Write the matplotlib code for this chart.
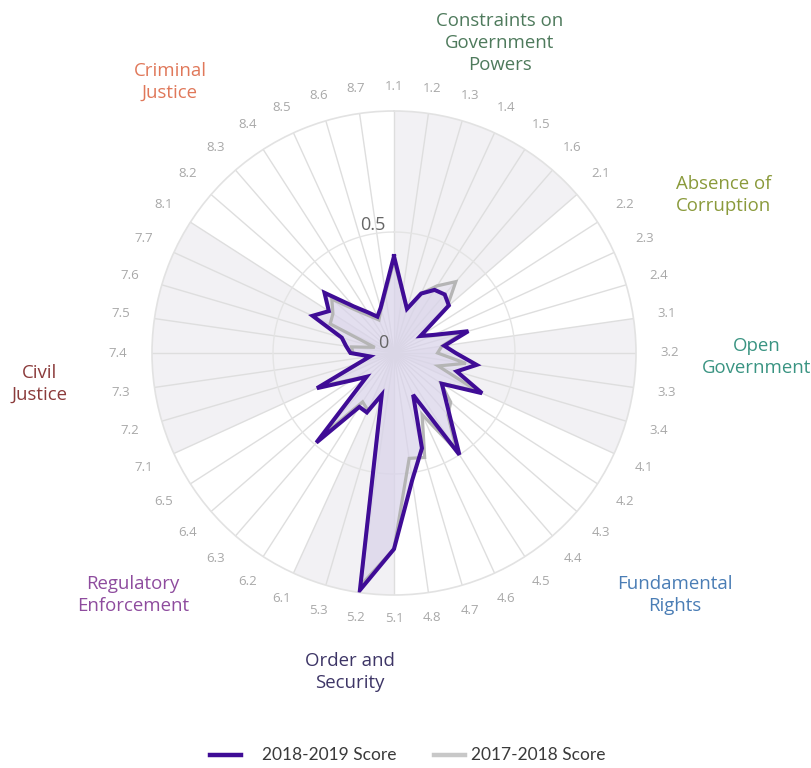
import numpy as np
import matplotlib
matplotlib.use("Agg")
import matplotlib.pyplot as plt
from matplotlib.lines import Line2D

# ---------------- data ----------------
subfactors = ['1.1', '1.2', '1.3', '1.4', '1.5', '1.6',
              '2.1', '2.2', '2.3', '2.4',
              '3.1', '3.2', '3.3', '3.4',
              '4.1', '4.2', '4.3', '4.4', '4.5', '4.6', '4.7', '4.8',
              '5.1', '5.2', '5.3',
              '6.1', '6.2', '6.3', '6.4', '6.5',
              '7.1', '7.2', '7.3', '7.4', '7.5', '7.6', '7.7',
              '8.1', '8.2', '8.3', '8.4', '8.5', '8.6', '8.7']

score_2019 = [0.40, 0.255, 0.19, 0.27, 0.31, 0.32,
              0.30, 0.13, 0.18, 0.32,
              0.21, 0.255, 0.345, 0.27,
              0.40, 0.235, 0.28, 0.355, 0.50, 0.19, 0.41, 0.53,
              0.81, 0.99, 0.18,
              0.27, 0.265, 0.49, 0.15, 0.21,
              0.35, 0.155, 0.10, 0.18, 0.20, 0.225, 0.37,
              0.32, 0.38, 0.255, 0.20, 0.165, 0.195, 0.26]

score_2018 = [0.38, 0.25, 0.19, 0.27, 0.33, 0.39,
              0.29, 0.13, 0.17, 0.30,
              0.20, 0.18, 0.30, 0.19,
              0.38, 0.23, 0.31, 0.34, 0.48, 0.28, 0.45, 0.44,
              0.81, 0.97, 0.18,
              0.26, 0.24, 0.45, 0.15, 0.20,
              0.33, 0.15, 0.10, 0.17, 0.177, 0.083, 0.29,
              0.30, 0.34, 0.23, 0.18, 0.15, 0.19, 0.25]

factor_names = ['Constraints on\nGovernment\nPowers', 'Absence of\nCorruption',
                'Open\nGovernment', 'Fundamental\nRights', 'Order and\nSecurity',
                'Regulatory\nEnforcement', 'Civil\nJustice', 'Criminal\nJustice']
factor_colors = ['#4e7a5c', '#8a9a3b', '#3a9482', '#4a7db5',
                 '#3d3566', '#8e4c9e', '#8b3b3b', '#e0785a']
# shaded bands for factors 1,3,5,7
band_factors = ['1', '3', '5', '7']

series_names = ['2018-2019 Score', '2017-2018 Score']
radial_ticks = [0, 0.5]

# ---------------- layout ----------------
W, H = 812, 768
DPI = 100
fig = plt.figure(figsize=(W / DPI, H / DPI), dpi=DPI)
fig.patch.set_facecolor('white')

cx, cy, R = 394, 353, 242
ax = fig.add_axes([(cx - R) / W, (H - cy - R) / H, 2 * R / W, 2 * R / H],
                  projection='polar')
ax.set_theta_zero_location('N')
ax.set_theta_direction(-1)
ax.set_ylim(0, 1)
ax.set_facecolor('white')
ax.grid(False)
ax.set_xticks([])
ax.set_yticks([])
ax.spines['polar'].set_color('#e2e2e2')
ax.spines['polar'].set_linewidth(1.2)

n = len(subfactors)
step = 2 * np.pi / n
theta = np.arange(n) * step
groups = [s.split('.')[0] for s in subfactors]

# plot bands
for g in band_factors:
    idx = [i for i, gg in enumerate(groups) if gg == g]
    start = idx[0]
    end = idx[-1] + 1
    ax.bar(start * step, 1.0, width=(end - start) * step, align='edge',
           color='#f2f1f4', edgecolor='none', zorder=0)

# grid: spokes and circle
for t in theta:
    ax.plot([t, t], [0, 1], color='#dedede', lw=1.0, zorder=1)
tt = np.linspace(0, 2 * np.pi, 400)
ax.plot(tt, np.full_like(tt, 0.5), color='#e4e4e4', lw=1.0, zorder=1)

# series
th_c = np.append(theta, theta[0])
s18 = np.append(score_2018, score_2018[0])
s19 = np.append(score_2019, score_2019[0])
ax.fill(th_c, s18, color='#d9d3ea', alpha=0.35, zorder=2, lw=0)
ax.fill(th_c, s19, color='#d9d3ea', alpha=0.55, zorder=2, lw=0)
ax.plot(th_c, s18, color='#b5b5b5', lw=2.3, zorder=3, solid_joinstyle='miter')
ax.plot(th_c, s19, color='#3f0c96', lw=2.9, zorder=4, solid_joinstyle='miter')

# subfactor labels
for t, lab in zip(theta, subfactors):
    rpx = 266 + 10 * abs(np.sin(t))
    ax.text(t, rpx / R, lab, ha='center', va='center', fontsize=9.5,
            color='#a8a8a8', family='Open Sans', clip_on=False)


def px(x, y):
    return x / W, 1 - y / H


# radial axis labels
for v, (x, y) in zip(radial_ticks, [(383, 343), (373, 225)]):
    fig.text(*px(x, y), ('%g' % v), ha='center', va='center', fontsize=13,
             color='#666666', family='Open Sans')

# factor labels
factor_pos = [(500, 43), (724, 195), (757, 357), (675, 595),
              (350, 672), (133, 595), (40, 384), (170, 82)]
for name, col, (x, y) in zip(factor_names, factor_colors, factor_pos):
    fig.text(*px(x, y), name, ha='center', va='center', fontsize=13.4,
             color=col, family='Open Sans', linespacing=1.25)

# legend
leg_y = 755
fig.add_artist(Line2D([210 / W, 241 / W], [1 - leg_y / H] * 2, color='#3f0c96',
                      lw=3.2, transform=fig.transFigure))
fig.text(*px(262, leg_y), series_names[0], ha='left', va='center', fontsize=12.5,
         color='#3a3a3a', family='Lato')
fig.add_artist(Line2D([434 / W, 465 / W], [1 - leg_y / H] * 2, color='#c8c8c8',
                      lw=3.2, transform=fig.transFigure))
fig.text(*px(471, leg_y), series_names[1], ha='left', va='center', fontsize=12.5,
         color='#3a3a3a', family='Lato')

fig.savefig('out.png', dpi=DPI, facecolor='white')
